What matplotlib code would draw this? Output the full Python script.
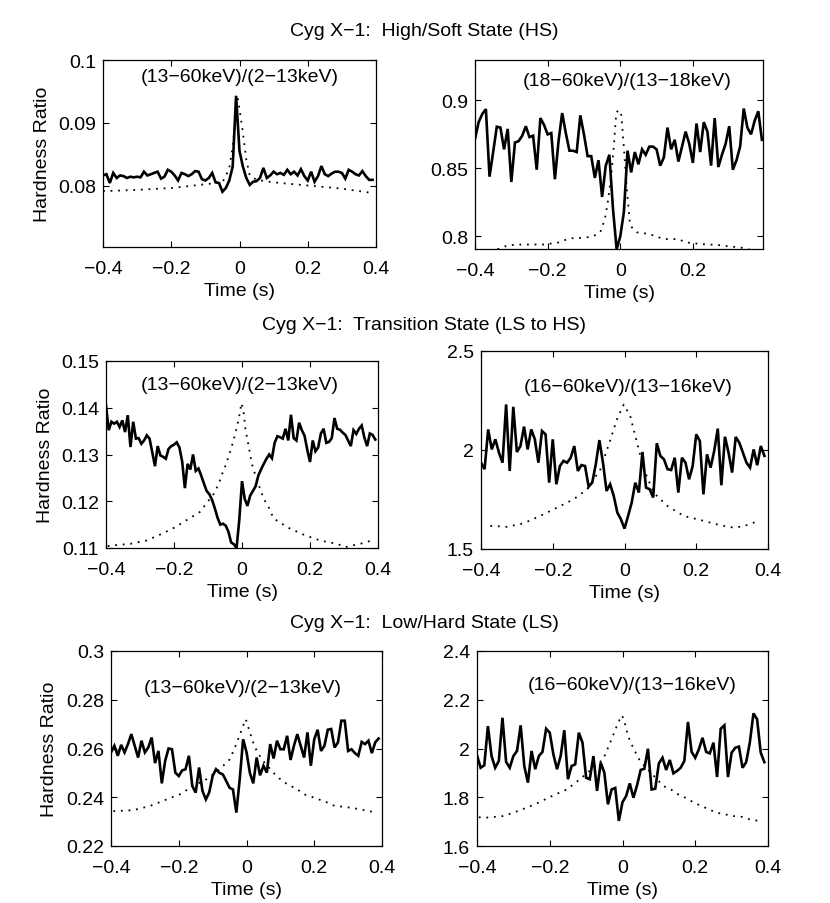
import numpy as np
import matplotlib
matplotlib.use("Agg")
import matplotlib.pyplot as plt
from matplotlib.ticker import FuncFormatter

plt.rcParams['font.family'] = ['Liberation Sans', 'DejaVu Sans']
plt.rcParams['font.size'] = 14

# time grids of the binned hardness ratios
t_01 = np.round(np.arange(80) * 0.01 - 0.4, 3)
t_008 = np.round(np.arange(100) * 0.008 - 0.4, 3)

# ---- High/Soft state ----
hs_a = [0.0816, 0.0818, 0.0804, 0.0820, 0.0812, 0.0816, 0.0815, 0.0812, 0.0814, 0.0813,
        0.0814, 0.0813, 0.0822, 0.0816, 0.0818, 0.0820, 0.0822, 0.0811, 0.0814, 0.0825,
        0.0822, 0.0816, 0.0808, 0.0820, 0.0818, 0.0815, 0.0818, 0.0823, 0.0822, 0.0810,
        0.0808, 0.0812, 0.0820, 0.0805, 0.0804, 0.0790, 0.0796, 0.0808, 0.0830, 0.0943,
        0.0855, 0.0830, 0.0812, 0.0801, 0.0806, 0.0807, 0.0812, 0.0828, 0.0812, 0.0816,
        0.0822, 0.0818, 0.0820, 0.0817, 0.0825, 0.0818, 0.0822, 0.0816, 0.0826, 0.0815,
        0.0808, 0.0822, 0.0806, 0.0815, 0.0831, 0.0818, 0.0815, 0.0819, 0.0822, 0.0822,
        0.0820, 0.0811, 0.0825, 0.0822, 0.0818, 0.0816, 0.0823, 0.0815, 0.0809, 0.0809]
hs_a_prof_t = [-0.40, -0.30, -0.20, -0.10, -0.05, -0.03, -0.02, -0.01, -0.005, 0.00,
               0.01, 0.02, 0.03, 0.05, 0.10, 0.20, 0.30, 0.39]
hs_a_prof = [0.0791, 0.0793, 0.0796, 0.0802, 0.0805, 0.0827, 0.0862, 0.0916, 0.0938, 0.0922,
             0.0884, 0.0841, 0.0816, 0.0809, 0.0805, 0.0800, 0.0795, 0.0788]

hs_b = [0.8716, 0.884, 0.890, 0.8936, 0.8439, 0.862, 0.8806, 0.8800, 0.864, 0.879,
        0.840, 0.869, 0.870, 0.874, 0.881, 0.873, 0.874, 0.849, 0.887, 0.882,
        0.875, 0.876, 0.842, 0.870, 0.8907, 0.876, 0.863, 0.863, 0.862, 0.889,
        0.875, 0.859, 0.859, 0.843, 0.856, 0.829, 0.852, 0.860, 0.820, 0.7905,
        0.800, 0.818, 0.863, 0.847, 0.862, 0.853, 0.864, 0.860, 0.866, 0.866,
        0.864, 0.852, 0.858, 0.880, 0.864, 0.871, 0.855, 0.866, 0.877, 0.868,
        0.854, 0.883, 0.862, 0.884, 0.877, 0.852, 0.887, 0.851, 0.860, 0.868,
        0.881, 0.849, 0.856, 0.866, 0.894, 0.880, 0.875, 0.885, 0.892, 0.871]
hs_b_prof_t = [-0.40, -0.33, -0.31, -0.27, -0.21, -0.17, -0.14, -0.10, -0.075, -0.055,
               -0.042, -0.033, -0.024, -0.017, -0.011, -0.004, 0.003, 0.010, 0.018, 0.027,
               0.045, 0.08, 0.12, 0.16, 0.18, 0.22, 0.27, 0.30, 0.33, 0.36, 0.39]
hs_b_prof = [0.788, 0.791, 0.7935, 0.794, 0.794, 0.7955, 0.7985, 0.7990, 0.800, 0.803,
             0.813, 0.8275, 0.847, 0.869, 0.891, 0.893, 0.889, 0.865, 0.835, 0.808,
             0.803, 0.8017, 0.798, 0.798, 0.7956, 0.7944, 0.7936, 0.7926, 0.7919, 0.790, 0.788]

# ---- Transition state ----
tr_a = [0.1405, 0.1352, 0.1370, 0.1366, 0.1370, 0.1359, 0.1373, 0.1348, 0.1384, 0.1316,
        0.1370, 0.1334, 0.1335, 0.1323, 0.1330, 0.1341, 0.1334, 0.1305, 0.1275, 0.1318,
        0.1298, 0.1295, 0.1291, 0.1312, 0.1318, 0.1321, 0.1326, 0.1315, 0.1285, 0.1228,
        0.1280, 0.1268, 0.1300, 0.1265, 0.1270, 0.1255, 0.1238, 0.1222, 0.1215, 0.1203,
        0.1185, 0.1165, 0.1150, 0.1152, 0.1148, 0.1135, 0.1112, 0.1108, 0.1100, 0.1160,
        0.1243, 0.1205, 0.1190, 0.1212, 0.1222, 0.1232, 0.1255, 0.1268, 0.1280, 0.1291,
        0.1300, 0.1292, 0.1325, 0.1339, 0.1337, 0.1334, 0.1355, 0.1330, 0.1385, 0.1335,
        0.1330, 0.1368, 0.1352, 0.1340, 0.1310, 0.1284, 0.1330, 0.1307, 0.1315, 0.1345,
        0.1355, 0.1325, 0.1327, 0.1335, 0.1378, 0.1355, 0.1353, 0.1347, 0.1342, 0.1330,
        0.1318, 0.1352, 0.1344, 0.1355, 0.1362, 0.1336, 0.1318, 0.1345, 0.1342, 0.1332]
tr_a_prof_t = [-0.395, -0.372, -0.328, -0.281, -0.234, -0.195, -0.171, -0.124, -0.083, -0.068,
               -0.058, -0.048, -0.039, -0.029, -0.021, -0.014, -0.006, -0.002, 0.004, 0.010,
               0.020, 0.029, 0.044, 0.064, 0.078, 0.093, 0.137, 0.186, 0.230, 0.279,
               0.304, 0.348, 0.368, 0.388]
tr_a_prof = [0.1104, 0.1106, 0.1109, 0.1116, 0.1131, 0.1145, 0.1156, 0.1177, 0.1216, 0.1238,
             0.1259, 0.1277, 0.1297, 0.1320, 0.1341, 0.1362, 0.1390, 0.1410, 0.1395, 0.1355,
             0.1316, 0.1280, 0.1245, 0.1205, 0.1188, 0.1163, 0.1143, 0.1127, 0.1116, 0.1109,
             0.1102, 0.1109, 0.1113, 0.1118]

tr_b = [1.936, 1.903, 2.104, 2.003, 2.054, 1.987, 1.936, 2.230, 1.894, 2.218,
        1.990, 2.020, 2.118, 2.003, 2.104, 2.054, 1.936, 2.096, 2.079, 1.835,
        2.054, 1.827, 1.919, 1.945, 1.936, 1.961, 2.020, 1.894, 1.924, 1.919,
        1.815, 1.835, 1.928, 2.050, 1.936, 1.793, 1.827, 1.768, 1.684, 1.650,
        1.603, 1.667, 1.734, 1.835, 1.785, 1.990, 1.810, 1.802, 1.760, 2.034,
        1.970, 1.953, 1.903, 1.899, 1.961, 1.785, 1.961, 1.936, 1.852, 1.919,
        2.079, 2.045, 1.776, 1.978, 1.911, 1.995, 2.108, 1.822, 2.067, 1.987,
        1.886, 2.066, 2.037, 1.987, 1.936, 1.911, 2.003, 1.923, 2.020, 1.970]
tr_b_prof_t = [-0.374, -0.328, -0.281, -0.235, -0.188, -0.142, -0.104, -0.067, -0.039, -0.021,
               -0.002, 0.016, 0.035, 0.054, 0.081, 0.119, 0.165, 0.221, 0.267, 0.304,
               0.332, 0.374]
tr_b_prof = [1.617, 1.612, 1.630, 1.667, 1.709, 1.751, 1.802, 1.903, 2.054, 2.155,
             2.230, 2.171, 2.037, 1.903, 1.785, 1.718, 1.667, 1.642, 1.620, 1.608,
             1.615, 1.642]

# ---- Low/Hard state ----
ls_a = [0.2584, 0.2611, 0.2570, 0.2615, 0.2584, 0.2618, 0.2659, 0.2611, 0.2563, 0.2632,
        0.2584, 0.2604, 0.2645, 0.2540, 0.2590, 0.2457, 0.2550, 0.2600, 0.2597, 0.2501,
        0.2487, 0.2510, 0.2515, 0.2570, 0.2446, 0.2419, 0.2522, 0.2426, 0.2391, 0.2420,
        0.2487, 0.2515, 0.2500, 0.2494, 0.2467, 0.2439, 0.2432, 0.2337, 0.2474, 0.2638,
        0.2585, 0.2500, 0.2457, 0.2563, 0.2490, 0.2529, 0.2501, 0.2618, 0.2559, 0.2632,
        0.2597, 0.2597, 0.2652, 0.2553, 0.2611, 0.2659, 0.2611, 0.2563, 0.2666, 0.2529,
        0.2638, 0.2677, 0.2590, 0.2611, 0.2677, 0.2680, 0.2604, 0.2625, 0.2714, 0.2714,
        0.2590, 0.2597, 0.2581, 0.2570, 0.2627, 0.2618, 0.2632, 0.2581, 0.2625, 0.2641]
ls_a_prof_t = [-0.393, -0.334, -0.285, -0.236, -0.197, -0.157, -0.118, -0.079, -0.049, -0.028,
               -0.010, -0.002, 0.007, 0.015, 0.023, 0.034, 0.049, 0.084, 0.103, 0.125,
               0.148, 0.170, 0.192, 0.214, 0.239, 0.261, 0.288, 0.312, 0.338, 0.362, 0.387]
ls_a_prof = [0.2343, 0.2347, 0.2364, 0.2391, 0.2412, 0.2446, 0.2474, 0.2515, 0.2556, 0.2625,
             0.2693, 0.2720, 0.2680, 0.2645, 0.2611, 0.2581, 0.2549, 0.2494, 0.2470, 0.2449,
             0.2435, 0.2412, 0.2402, 0.2391, 0.2378, 0.2364, 0.2361, 0.2356, 0.2350, 0.2342, 0.2339]

ls_b = [1.972, 1.921, 1.931, 2.092, 1.969, 1.921, 1.949, 2.126, 1.945, 1.921,
        1.969, 1.990, 2.095, 1.928, 1.860, 1.990, 1.915, 1.969, 1.986, 2.081,
        2.065, 1.976, 1.915, 1.969, 2.075, 1.874, 1.928, 1.935, 2.065, 2.024,
        1.880, 1.874, 1.969, 1.826, 1.942, 1.901, 1.771, 1.832, 1.838, 1.703,
        1.780, 1.805, 1.857, 1.798, 1.849, 1.912, 1.917, 1.999, 1.832, 1.835,
        1.939, 1.962, 1.912, 1.953, 1.898, 1.908, 1.921, 1.949, 2.109, 1.986,
        1.962, 1.997, 2.044, 1.986, 1.980, 2.024, 1.883, 2.081, 2.095, 1.883,
        1.983, 2.003, 2.008, 1.921, 1.944, 2.024, 2.144, 2.120, 1.983, 1.944]
ls_b_prof_t = [-0.395, -0.377, -0.327, -0.281, -0.235, -0.190, -0.153, -0.117, -0.085, -0.053,
               -0.030, -0.012, -0.002, 0.004, 0.010, 0.016, 0.025, 0.036, 0.048, 0.112,
               0.135, 0.156, 0.176, 0.196, 0.217, 0.238, 0.258, 0.281, 0.304, 0.327,
               0.350, 0.375]
ls_b_prof = [1.718, 1.716, 1.723, 1.747, 1.775, 1.808, 1.832, 1.874, 1.915, 1.956,
             2.038, 2.106, 2.136, 2.120, 2.081, 2.049, 2.017, 1.983, 1.949, 1.846,
             1.830, 1.809, 1.796, 1.778, 1.764, 1.750, 1.737, 1.730, 1.723, 1.720,
             1.709, 1.703]

state_titles = ["Cyg X\u22121:  High/Soft State (HS)",
                "Cyg X\u22121:  Transition State (LS to HS)",
                "Cyg X\u22121:  Low/Hard State (LS)"]
band_labels = ["(13\u221260keV)/(2\u221213keV)", "(18\u221260keV)/(13\u221218keV)",
               "(13\u221260keV)/(2\u221213keV)", "(16\u221260keV)/(13\u221216keV)",
               "(13\u221260keV)/(2\u221213keV)", "(16\u221260keV)/(13\u221216keV)"]

panels = [
    (t_01, hs_a, hs_a_prof_t, hs_a_prof, (0.0702, 0.1), [0.08, 0.09, 0.1], 0.4),
    (t_01, hs_b, hs_b_prof_t, hs_b_prof, (0.7907, 0.9297), [0.8, 0.85, 0.9], 0.393),
    (t_008, tr_a, tr_a_prof_t, tr_a_prof, (0.11, 0.15), [0.11, 0.12, 0.13, 0.14, 0.15], 0.4),
    (t_01, tr_b, tr_b_prof_t, tr_b_prof, (1.5, 2.5), [1.5, 2, 2.5], 0.4),
    (t_01, ls_a, ls_a_prof_t, ls_a_prof, (0.22, 0.3), [0.22, 0.24, 0.26, 0.28, 0.3], 0.4),
    (t_01, ls_b, ls_b_prof_t, ls_b_prof, (1.6, 2.4), [1.6, 1.8, 2, 2.2, 2.4], 0.4),
]
xticks_all = [-0.4, -0.2, 0, 0.2, 0.4]

# axes boxes in pixels: left, right, top, bottom
W, H = 830, 904
boxes = [(103, 376, 61, 248), (475, 763, 61, 250),
         (106, 378, 362, 549), (481, 768, 352, 550),
         (111, 382, 652, 847), (477, 768, 652, 847)]
label_pos = [(0.0, 0.91), (0.02, 0.89), (-0.006, 0.877), (0.01, 0.823), (-0.01, 0.815), (0.027, 0.83)]
ylabel_x = [-0.192, None, -0.190, None, -0.196, None]


def fmt(v, pos):
    return ("%g" % v).replace("-", "\u2212")


fig = plt.figure(figsize=(W / 100, H / 100), dpi=100)

for k, (t, hr, pt, prof, ylim, yt, xmax) in enumerate(panels):
    l, r, tp, b = boxes[k]
    ax = fig.add_axes([l / W, 1 - b / H, (r - l) / W, (b - tp) / H])
    ax.plot(t, hr, color='black', lw=1.9, solid_joinstyle='miter')
    ax.plot(pt, prof, color='black', lw=1.3, linestyle=(0, (1, 3.2)))
    ax.set_xlim(-0.4, xmax)
    ax.set_ylim(*ylim)
    ax.set_xticks([x for x in xticks_all if x <= xmax + 1e-9])
    ax.set_yticks(yt)
    ax.xaxis.set_major_formatter(FuncFormatter(fmt))
    ax.yaxis.set_major_formatter(FuncFormatter(fmt))
    ax.tick_params(direction='in', top=True, right=True, length=4, width=0.8,
                   labelsize=14)
    ax.tick_params(axis='x', pad=9.3)
    ax.tick_params(axis='y', pad=5)
    for s in ax.spines.values():
        s.set_linewidth(0.9)
    ax.set_xlabel("Time (s)", fontsize=14, labelpad=3.8)
    if ylabel_x[k] is not None:
        ax.set_ylabel("Hardness Ratio", fontsize=14)
        ax.yaxis.set_label_coords(ylabel_x[k], 0.5)
    lx, ly = label_pos[k]
    ax.text(lx, ylim[0] + ly * (ylim[1] - ylim[0]), band_labels[k],
            ha='center', va='center', fontsize=14)

title_y = [32, 325, 623]
for txt, y in zip(state_titles, title_y):
    fig.text(0.511, 1 - y / H, txt, ha='center', va='center', fontsize=14)

fig.savefig("out.png", dpi=100)
